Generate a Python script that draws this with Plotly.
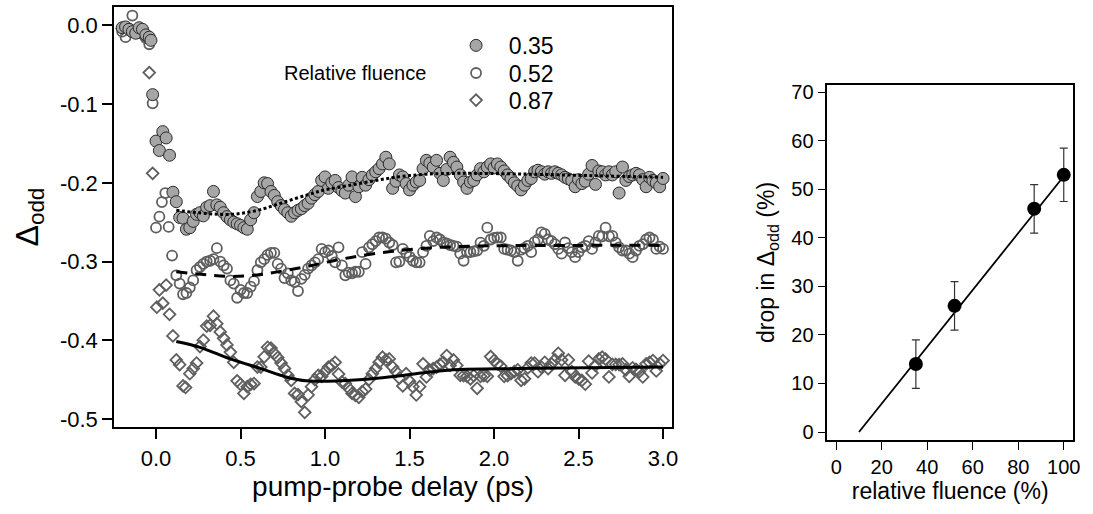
import plotly.graph_objects as go

# ---------------- data: left panel (pump-probe delay in ps, Delta_odd) ----------------
t1 = [-0.20, -0.18, -0.16, -0.14, -0.12, -0.10, -0.08, -0.06, -0.04, -0.03, -0.02, 0.00, 0.02, 0.04, 0.06, 0.08,
      0.10, 0.12, 0.14, 0.16, 0.18, 0.20, 0.22, 0.24, 0.26, 0.28, 0.30, 0.32, 0.34, 0.36, 0.38, 0.40,
      0.42, 0.44, 0.46, 0.48, 0.50, 0.52, 0.54, 0.56, 0.58, 0.60, 0.62, 0.64, 0.66, 0.68, 0.70, 0.72,
      0.74, 0.76, 0.78, 0.80, 0.82, 0.84, 0.86, 0.88, 0.90, 0.92, 0.94, 0.96, 0.98, 1.00, 1.02, 1.04,
      1.06, 1.08, 1.10, 1.12, 1.14, 1.16, 1.18, 1.20, 1.22, 1.24, 1.26, 1.28, 1.30, 1.32, 1.34, 1.36,
      1.38, 1.40, 1.42, 1.44, 1.46, 1.48, 1.50, 1.52, 1.54, 1.56, 1.58, 1.60, 1.62, 1.64, 1.66, 1.68,
      1.70, 1.72, 1.74, 1.76, 1.78, 1.80, 1.82, 1.84, 1.86, 1.88, 1.90, 1.92, 1.94, 1.96, 1.98, 2.00,
      2.02, 2.04, 2.06, 2.08, 2.10, 2.12, 2.14, 2.16, 2.18, 2.20, 2.22, 2.24, 2.26, 2.28, 2.30, 2.32,
      2.34, 2.36, 2.38, 2.40, 2.42, 2.44, 2.46, 2.48, 2.50, 2.52, 2.54, 2.56, 2.58, 2.60, 2.62, 2.64,
      2.66, 2.68, 2.70, 2.72, 2.74, 2.76, 2.78, 2.80, 2.82, 2.84, 2.86, 2.88, 2.90, 2.92, 2.94, 2.96,
      2.98, 3.00]
v1 = [-0.003, -0.002, -0.005, -0.008, -0.010, -0.003, -0.005, -0.012, -0.015, -0.019, -0.088, -0.147, -0.159, -0.135, -0.143, -0.165,
      -0.212, -0.224, -0.244, -0.245, -0.259, -0.257, -0.249, -0.240, -0.238, -0.242, -0.231, -0.229, -0.211, -0.228, -0.231, -0.238,
      -0.243, -0.247, -0.250, -0.252, -0.254, -0.257, -0.259, -0.247, -0.238, -0.2175, -0.211, -0.200, -0.201, -0.211, -0.216, -0.224,
      -0.229, -0.234, -0.238, -0.2425, -0.238, -0.235, -0.233, -0.229, -0.226, -0.2195, -0.215, -0.211, -0.197, -0.1925, -0.207, -0.200,
      -0.197, -0.206, -0.210, -0.213, -0.203, -0.1925, -0.2175, -0.205, -0.193, -0.203, -0.196, -0.190, -0.186, -0.182, -0.176, -0.1675,
      -0.176, -0.207, -0.198, -0.190, -0.1925, -0.201, -0.209, -0.203, -0.199, -0.197, -0.182, -0.1715, -0.175, -0.180, -0.1715, -0.188,
      -0.197, -0.183, -0.1675, -0.174, -0.180, -0.190, -0.199, -0.207, -0.199, -0.197, -0.190, -0.182, -0.186, -0.180, -0.176, -0.181,
      -0.176, -0.180, -0.185, -0.190, -0.1945, -0.200, -0.204, -0.209, -0.203, -0.197, -0.1945, -0.186, -0.184, -0.186, -0.189, -0.186,
      -0.188, -0.186, -0.188, -0.190, -0.193, -0.195, -0.197, -0.205, -0.196, -0.201, -0.198, -0.189, -0.178, -0.202, -0.185, -0.186,
      -0.190, -0.186, -0.190, -0.186, -0.213, -0.180, -0.197, -0.192, -0.190, -0.188, -0.190, -0.196, -0.205, -0.193, -0.197, -0.200,
      -0.205, -0.1945]

t2 = [-0.20, -0.18, -0.16, -0.14, -0.12, -0.10, -0.08, -0.06, -0.04, -0.02, 0.00, 0.02, 0.035, 0.055, 0.075, 0.095,
      0.12, 0.14, 0.16, 0.18, 0.20, 0.22, 0.24, 0.26, 0.28, 0.30, 0.32, 0.34, 0.36, 0.38, 0.40, 0.42,
      0.44, 0.46, 0.48, 0.50, 0.52, 0.54, 0.56, 0.58, 0.60, 0.62, 0.64, 0.66, 0.68, 0.70, 0.72, 0.74,
      0.76, 0.78, 0.80, 0.82, 0.84, 0.86, 0.88, 0.90, 0.92, 0.94, 0.96, 0.98, 1.00, 1.02, 1.04, 1.06,
      1.08, 1.10, 1.12, 1.14, 1.16, 1.18, 1.20, 1.22, 1.24, 1.26, 1.28, 1.30, 1.32, 1.34, 1.36, 1.38,
      1.40, 1.42, 1.44, 1.46, 1.48, 1.50, 1.52, 1.54, 1.56, 1.58, 1.60, 1.62, 1.64, 1.66, 1.68, 1.70,
      1.72, 1.74, 1.76, 1.78, 1.80, 1.82, 1.84, 1.86, 1.88, 1.90, 1.92, 1.94, 1.96, 1.98, 2.00, 2.02,
      2.04, 2.06, 2.08, 2.10, 2.12, 2.14, 2.16, 2.18, 2.20, 2.22, 2.24, 2.26, 2.28, 2.30, 2.32, 2.34,
      2.36, 2.38, 2.40, 2.42, 2.44, 2.46, 2.48, 2.50, 2.52, 2.54, 2.56, 2.58, 2.60, 2.62, 2.64, 2.66,
      2.68, 2.70, 2.72, 2.74, 2.76, 2.78, 2.80, 2.82, 2.84, 2.86, 2.88, 2.90, 2.92, 2.94, 2.96, 2.98,
      3.00]
v2 = [-0.008, -0.015, -0.004, 0.0125, -0.006, -0.009, -0.010, -0.016, -0.024, -0.099, -0.257, -0.243, -0.2245, -0.213, -0.256, -0.2925,
      -0.3175, -0.328, -0.3416, -0.340, -0.333, -0.324, -0.311, -0.307, -0.303, -0.300, -0.299, -0.297, -0.283, -0.300, -0.305, -0.309,
      -0.324, -0.328, -0.346, -0.336, -0.340, -0.340, -0.332, -0.325, -0.311, -0.301, -0.297, -0.2916, -0.289, -0.289, -0.303, -0.309,
      -0.321, -0.315, -0.324, -0.326, -0.3375, -0.322, -0.317, -0.309, -0.305, -0.301, -0.297, -0.284, -0.288, -0.286, -0.293, -0.301,
      -0.282, -0.305, -0.3175, -0.314, -0.315, -0.313, -0.313, -0.288, -0.303, -0.282, -0.278, -0.274, -0.2695, -0.2695, -0.271, -0.2758,
      -0.279, -0.301, -0.300, -0.284, -0.289, -0.294, -0.299, -0.301, -0.301, -0.288, -0.280, -0.2675, -0.274, -0.2695, -0.272, -0.2758,
      -0.277, -0.279, -0.280, -0.281, -0.290, -0.299, -0.288, -0.288, -0.287, -0.286, -0.276, -0.280, -0.257, -0.272, -0.270, -0.2695,
      -0.2695, -0.284, -0.285, -0.286, -0.288, -0.299, -0.285, -0.283, -0.280, -0.288, -0.275, -0.272, -0.263, -0.265, -0.272, -0.274,
      -0.278, -0.284, -0.290, -0.2758, -0.283, -0.288, -0.2945, -0.288, -0.282, -0.280, -0.274, -0.284, -0.276, -0.2675, -0.268, -0.257,
      -0.268, -0.2675, -0.276, -0.282, -0.286, -0.286, -0.290, -0.2945, -0.286, -0.280, -0.278, -0.272, -0.2695, -0.272, -0.284, -0.281,
      -0.284]

t3 = [-0.20, -0.16, -0.12, -0.08, -0.06, -0.04, -0.02, 0.005, 0.02, 0.04, 0.06, 0.08, 0.10, 0.12, 0.14, 0.16,
      0.175, 0.20, 0.22, 0.24, 0.26, 0.28, 0.30, 0.32, 0.34, 0.36, 0.38, 0.40, 0.42, 0.44, 0.46, 0.48,
      0.50, 0.52, 0.54, 0.56, 0.58, 0.60, 0.62, 0.64, 0.66, 0.68, 0.70, 0.72, 0.74, 0.76, 0.78, 0.80,
      0.82, 0.84, 0.86, 0.88, 0.90, 0.92, 0.94, 0.96, 0.98, 1.00, 1.02, 1.04, 1.06, 1.08, 1.10, 1.12,
      1.14, 1.16, 1.18, 1.20, 1.22, 1.24, 1.26, 1.28, 1.30, 1.32, 1.34, 1.36, 1.38, 1.40, 1.42, 1.44,
      1.46, 1.48, 1.50, 1.52, 1.54, 1.56, 1.58, 1.60, 1.62, 1.64, 1.66, 1.68, 1.70, 1.72, 1.74, 1.76,
      1.78, 1.80, 1.82, 1.84, 1.86, 1.88, 1.90, 1.92, 1.94, 1.96, 1.98, 2.00, 2.02, 2.04, 2.06, 2.08,
      2.10, 2.12, 2.14, 2.16, 2.18, 2.20, 2.22, 2.24, 2.26, 2.28, 2.30, 2.32, 2.34, 2.36, 2.38, 2.40,
      2.42, 2.44, 2.46, 2.48, 2.50, 2.52, 2.54, 2.56, 2.58, 2.60, 2.62, 2.64, 2.66, 2.68, 2.70, 2.72,
      2.74, 2.76, 2.78, 2.80, 2.82, 2.84, 2.86, 2.88, 2.90, 2.92, 2.94, 2.96, 2.98, 3.00]
v3 = [-0.004, -0.006, -0.008, -0.012, -0.015, -0.060, -0.188, -0.358, -0.336, -0.353, -0.330, -0.367, -0.3945, -0.425, -0.431, -0.458,
      -0.460, -0.4425, -0.436, -0.429, -0.408, -0.400, -0.382, -0.381, -0.3695, -0.379, -0.3895, -0.3975, -0.406, -0.415, -0.428, -0.4516,
      -0.456, -0.4675, -0.459, -0.456, -0.455, -0.434, -0.434, -0.421, -0.409, -0.410, -0.4166, -0.422, -0.429, -0.436, -0.4445, -0.451,
      -0.4675, -0.469, -0.478, -0.4916, -0.4695, -0.459, -0.450, -0.4445, -0.446, -0.440, -0.434, -0.432, -0.428, -0.443, -0.453, -0.455,
      -0.461, -0.4675, -0.470, -0.4725, -0.4654, -0.462, -0.450, -0.4425, -0.436, -0.428, -0.4216, -0.425, -0.4237, -0.434, -0.440, -0.448,
      -0.458, -0.4425, -0.452, -0.459, -0.4695, -0.459, -0.430, -0.4466, -0.438, -0.436, -0.434, -0.4308, -0.428, -0.4195, -0.432, -0.425,
      -0.432, -0.4445, -0.445, -0.4458, -0.449, -0.445, -0.461, -0.4458, -0.445, -0.4458, -0.4208, -0.4258, -0.430, -0.433, -0.4458, -0.445,
      -0.4425, -0.440, -0.4375, -0.451, -0.449, -0.435, -0.429, -0.429, -0.440, -0.434, -0.428, -0.436, -0.430, -0.425, -0.4166, -0.425,
      -0.4445, -0.425, -0.440, -0.4466, -0.449, -0.451, -0.4558, -0.4266, -0.4416, -0.432, -0.4237, -0.4216, -0.424, -0.4466, -0.4308, -0.4308,
      -0.431, -0.430, -0.4375, -0.4458, -0.435, -0.437, -0.440, -0.4466, -0.430, -0.428, -0.4258, -0.439, -0.430, -0.4258]

# fitted curves
fit1_t = [0.12, 0.30, 0.45, 0.60, 0.75, 0.90, 1.00, 1.15, 1.30, 1.45, 1.60, 1.80, 2.20, 2.60, 3.00]
fit1_v = [-0.235, -0.239, -0.240, -0.235, -0.225, -0.215, -0.209, -0.203, -0.197, -0.192, -0.189, -0.188, -0.189, -0.191, -0.193]
fit2_t = [0.12, 0.30, 0.45, 0.60, 0.75, 0.90, 1.05, 1.20, 1.40, 1.60, 1.80, 2.00, 2.50, 3.00]
fit2_v = [-0.313, -0.317, -0.319, -0.317, -0.312, -0.306, -0.299, -0.293, -0.287, -0.283, -0.281, -0.280, -0.2795, -0.2795]
fit3_t = [0.12, 0.26, 0.44, 0.62, 0.77, 0.89, 1.09, 1.28, 1.42, 1.57, 1.76, 2.15, 2.55, 3.00]
fit3_v = [-0.4016, -0.409, -0.4237, -0.436, -0.4466, -0.4516, -0.4516, -0.449, -0.4458, -0.4416, -0.4375, -0.436, -0.435, -0.434]

series_names = ["0.35", "0.52", "0.87"]

x_ticks = [0.0, 0.5, 1.0, 1.5, 2.0, 2.5, 3.0]
x_ticktext = ["0.0", "0.5", "1.0", "1.5", "2.0", "2.5", "3.0"]
y_ticks = [0.0, -0.1, -0.2, -0.3, -0.4, -0.5]
y_ticktext = ["0.0", "-0.1", "-0.2", "-0.3", "-0.4", "-0.5"]

# ---------------- data: right panel ----------------
fluence = [35, 52, 87, 100]
drop = [14, 26, 46, 53]
drop_err = [5, 5, 5, 5.5]
line_fluence = [10, 100]
line_drop = [0, 52.7]
fx_ticks = [0, 20, 40, 60, 80, 100]
fy_ticks = [0, 10, 20, 30, 40, 50, 60, 70]

FONT = "Liberation Sans, Arial, sans-serif"
NB = "\u00a0\u00a0"
fig = go.Figure()

# scatter series (diamonds drawn first, filled circles on top); each gets its own legend box
fig.add_trace(go.Scatter(x=t3, y=v3, mode="markers", name=NB + series_names[2], legend="legend3",
                         marker=dict(symbol="diamond-open", size=9, color="#5f5f5f", line=dict(width=1.8)),
                         xaxis="x", yaxis="y"))
fig.add_trace(go.Scatter(x=t2, y=v2, mode="markers", name=NB + series_names[1], legend="legend2",
                         marker=dict(symbol="circle-open", size=10, color="#5f5f5f", line=dict(width=1.8)),
                         xaxis="x", yaxis="y"))
fig.add_trace(go.Scatter(x=t1, y=v1, mode="markers", name=NB + series_names[0], legend="legend",
                         marker=dict(symbol="circle", size=12, color="#a6a6a6", line=dict(width=1, color="#2a2a2a")),
                         xaxis="x", yaxis="y"))

# fits
fig.add_trace(go.Scatter(x=fit1_t, y=fit1_v, mode="lines", showlegend=False, line_shape="spline",
                         line=dict(color="black", width=3, dash="3px,2.5px"), xaxis="x", yaxis="y"))
fig.add_trace(go.Scatter(x=fit2_t, y=fit2_v, mode="lines", showlegend=False, line_shape="spline",
                         line=dict(color="black", width=3, dash="11px,8px"), xaxis="x", yaxis="y"))
fig.add_trace(go.Scatter(x=fit3_t, y=fit3_v, mode="lines", showlegend=False, line_shape="spline",
                         line=dict(color="black", width=3), xaxis="x", yaxis="y"))

# right panel
fig.add_trace(go.Scatter(x=line_fluence, y=line_drop, mode="lines", showlegend=False,
                         line=dict(color="black", width=1.8), xaxis="x2", yaxis="y2"))
fig.add_trace(go.Scatter(x=fluence, y=drop, mode="markers", showlegend=False,
                         error_y=dict(type="data", array=drop_err, visible=True, color="#333333",
                                      thickness=1.2, width=4),
                         marker=dict(symbol="circle", size=14, color="black"),
                         xaxis="x2", yaxis="y2"))

W, H = 1093, 514
axis_common = dict(showline=True, linecolor="black", mirror=True, showgrid=False, zeroline=False,
                   ticks="outside", tickcolor="black")
leg_common = dict(xanchor="left", yanchor="middle", bgcolor="rgba(0,0,0,0)",
                  font=dict(size=23), itemwidth=30)

fig.update_layout(
    width=W, height=H, margin=dict(l=0, r=0, t=0, b=0),
    paper_bgcolor="white", plot_bgcolor="white",
    font=dict(family=FONT, color="black"),
    xaxis=dict(axis_common, domain=[115 / W, 676 / W], range=[-0.247, 3.051], linewidth=2,
               tickvals=x_ticks, ticktext=x_ticktext, ticklen=10, tickwidth=1.5,
               tickfont=dict(size=22), anchor="y",
               title=dict(text="pump-probe delay (ps)", font=dict(size=28), standoff=2)),
    yaxis=dict(axis_common, domain=[1 - 430 / H, 1 - 4 / H], range=[-0.5104, 0.0234], linewidth=2,
               tickvals=y_ticks, ticktext=y_ticktext, ticklen=10, tickwidth=1.5,
               tickfont=dict(size=22), anchor="x",
               title=dict(text="Δ<sub>odd</sub>", font=dict(size=32), standoff=12)),
    xaxis2=dict(axis_common, domain=[832.7 / W, 1080 / W], range=[-3.9, 104.1], linewidth=1.5,
                tickvals=fx_ticks, ticklen=8, tickwidth=1.2, tickfont=dict(size=20), anchor="y2",
                title=dict(text="relative fluence (%)", font=dict(size=23), standoff=2)),
    yaxis2=dict(axis_common, domain=[1 - 443.3 / H, 1 - 82.7 / H], range=[-1.7, 71.6], linewidth=1.5,
                tickvals=fy_ticks, ticklen=8, tickwidth=1.2, tickfont=dict(size=20), anchor="x2",
                title=dict(text="drop in Δ<sub>odd</sub> (%)", font=dict(size=23), standoff=10)),
    legend=dict(leg_common, x=459 / W, y=1 - 43 / H),
    legend2=dict(leg_common, x=459 / W, y=1 - 71 / H),
    legend3=dict(leg_common, x=459 / W, y=1 - 98.5 / H),
    annotations=[dict(text="Relative fluence", xref="paper", yref="paper", x=284 / W, y=1 - 71 / H,
                      xanchor="left", yanchor="middle", showarrow=False, font=dict(size=20))],
)

fig.write_html("out.html")
